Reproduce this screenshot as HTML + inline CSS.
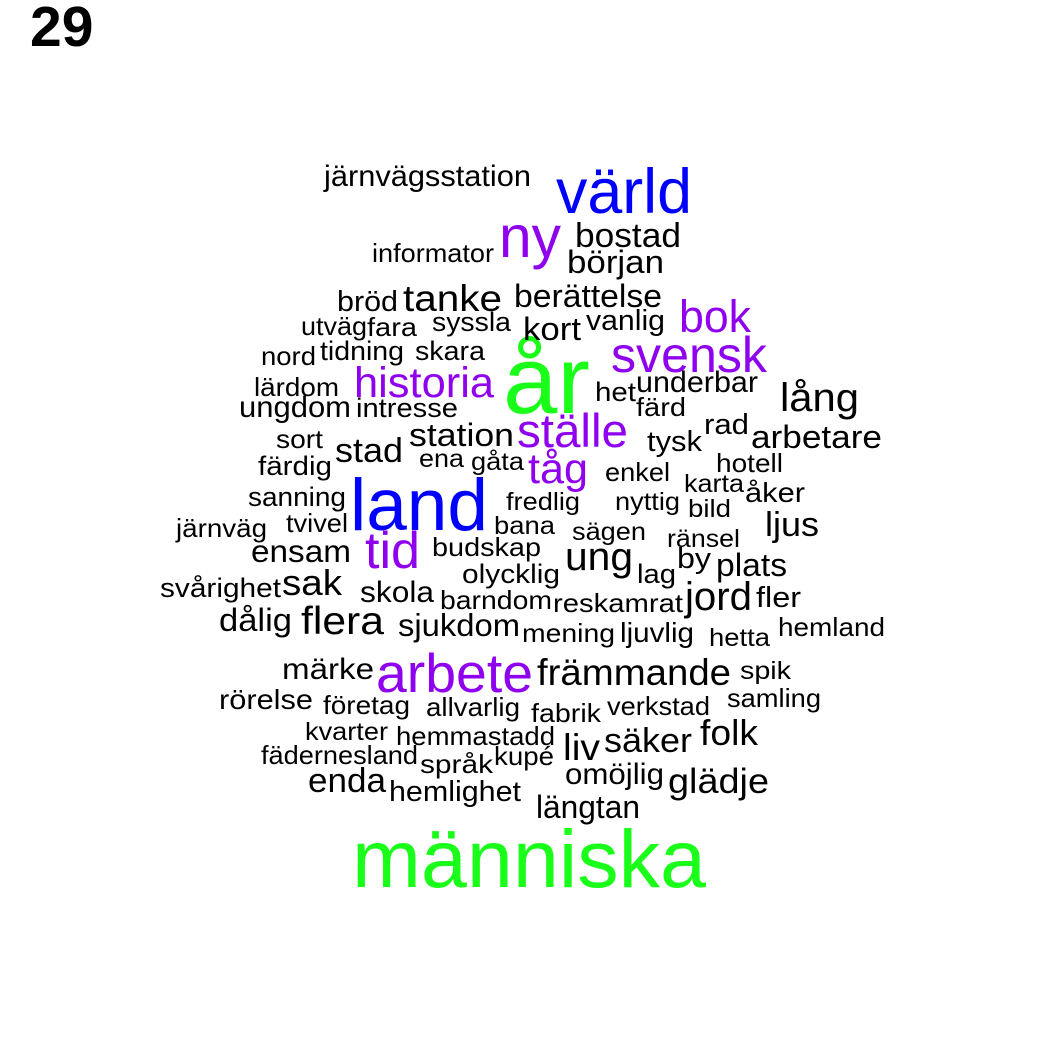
<!DOCTYPE html>
<html><head><meta charset="utf-8"><style>
html,body{margin:0;padding:0;background:#fff;}
svg{display:block;font-family:"Liberation Sans",Arial,sans-serif;}
</style></head><body>
<svg id="c" width="1050" height="1050">
<text x="30" y="46" font-size="57" font-weight="bold" fill="#000">29</text>
</svg>
<script>
const words = ["människa","år","land","värld","arbete","ny","svensk","historia","ställe","bok","tid","tåg",
"järnvägsstation","informator","bostad","början","bröd","tanke","berättelse","utväg","fara","syssla","kort","vanlig",
"nord","tidning","skara","lärdom","ungdom","intresse","het","underbar","färd","lång","station","stad","sort","ena","gåta",
"tysk","rad","arbetare","färdig","hotell","enkel","karta","sanning","fredlig","nyttig","bild","åker","järnväg","tvivel",
"bana","sägen","ränsel","ljus","ensam","budskap","ung","lag","by","plats","olycklig","svårighet","sak","skola","barndom",
"reskamrat","jord","fler","dålig","flera","sjukdom","mening","ljuvlig","hetta","hemland","märke","främmande","spik",
"rörelse","företag","allvarlig","fabrik","verkstad","samling","kvarter","hemmastadd","liv","säker","folk","fädernesland",
"språk","kupé","omöjlig","enda","hemlighet","glädje","längtan"];
const colorGroup = [2,2,1,1,3,3,3,3,3,3,3,3].concat(new Array(89).fill(0));
const palette = ["#000000","#0000ff","#1aff1a","#8f00ee"];
// layout boxes: left, right, baseline, font size
const layout = [
[352,706,887,82],[503,590,413,96],[350,488,530,73],[556,692,213,63],[376,533,692,55],[499,561,257,59],
[611,767,372,50],[354,494,397,43],[517,628,447,47],[679,751,332,45],[365,420,568,52],[528,588,483,43],
[324,531,186,28],[372,494,262,24],[575,681,247,32],[567,664,273,30],[337,398,311,27],[403,502,311,35],
[514,662,307,30],[301,367,335,24],[367,417,336,24],[432,511,331,25],[523,581,340,30],[586,665,330,27],
[261,316,365,24],[320,404,360,25],[415,485,360,25],[254,339,396,24],[239,351,417,28],[356,458,417,25],
[595,636,401,25],[636,758,392,28],[636,686,416,24],[780,859,411,37],[409,514,446,30],[335,403,462,32],
[276,323,448,24],[419,464,467,23],[471,524,470,23],[647,702,451,27],[704,749,434,27],[751,882,448,30],
[258,332,475,25],[716,783,472,24],[605,670,481,24],[684,744,492,23],[248,346,506,25],[506,580,510,23],
[615,680,510,23],[688,731,517,23],[745,805,502,26],[176,267,537,24],[286,348,532,24],[494,555,534,23],
[572,646,540,23],[667,740,547,23],[765,819,536,32],[251,351,562,29],[432,541,556,24],[565,633,570,37],
[637,676,583,25],[677,711,568,27],[716,787,576,30],[462,560,583,25],[160,281,597,25],[282,342,595,34],
[360,434,602,28],[440,552,609,24],[553,683,612,24],[685,752,610,37],[756,801,607,27],[219,292,631,30],
[301,384,634,36],[398,520,636,29],[522,615,642,24],[620,694,642,26],[709,770,646,23],[778,885,636,24],
[282,374,679,28],[537,731,685,35],[740,791,679,23],[219,313,709,26],[323,410,714,24],[426,520,716,24],
[531,601,722,24],[607,710,715,24],[727,821,707,24],[305,388,740,23],[396,555,745,24],[563,600,760,35],
[604,692,752,32],[700,758,745,34],[261,418,764,24],[420,493,773,24],[494,554,765,24],[565,664,784,28],
[308,386,792,32],[389,521,801,27],[668,769,793,33],[536,640,818,30]];
const svg = document.getElementById('c');
words.forEach((w,i)=>{
  const b = layout[i];
  const fs = colorGroup[i] === 0 ? b[3]*1.07 : b[3];
  const t = document.createElementNS('http://www.w3.org/2000/svg','text');
  t.setAttribute('x', b[0]);
  t.setAttribute('y', b[2]);
  t.setAttribute('font-size', fs);
  t.setAttribute('textLength', b[1]-b[0]);
  t.setAttribute('lengthAdjust','spacingAndGlyphs');
  t.setAttribute('fill', palette[colorGroup[i]]);
  t.textContent = w;
  
  
  svg.appendChild(t);
});
</script>
</body></html>
